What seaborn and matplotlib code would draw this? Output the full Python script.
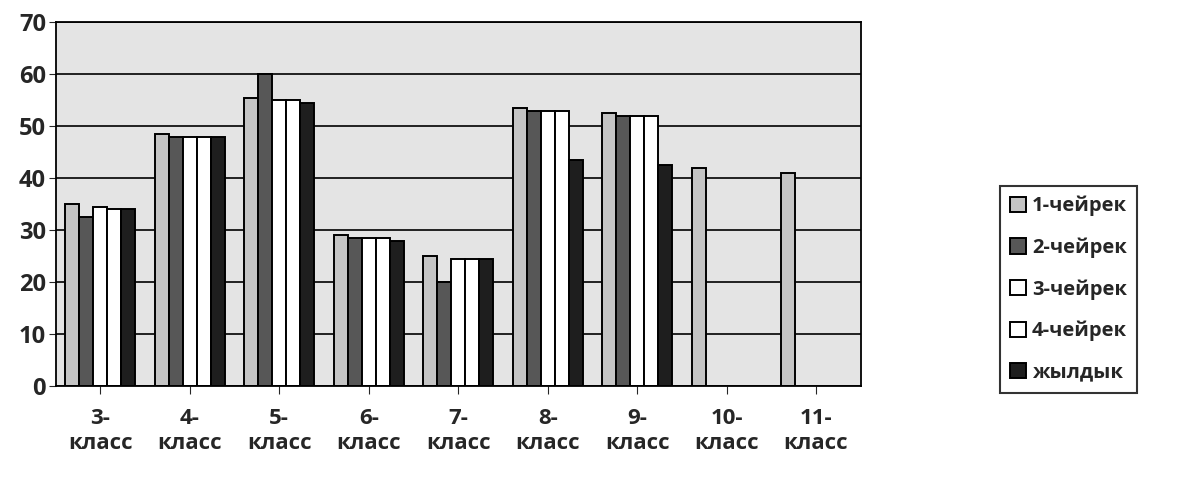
import pandas as pd
import matplotlib.pyplot as plt
import seaborn as sns

# --------------------------------------------------
# Data
# --------------------------------------------------
classes = ["3-\nкласс", "4-\nкласс", "5-\nкласс", "6-\nкласс", "7-\nкласс",
           "8-\nкласс", "9-\nкласс", "10-\nкласс", "11-\nкласс"]
series = ["1-чейрек", "2-чейрек", "3-чейрек", "4-чейрек", "жылдык"]

q1 = [35, 48.5, 55.5, 29, 25, 53.5, 52.5, 42, 41]
q2 = [32.5, 48, 60, 28.5, 20, 53, 52, None, None]
q3 = [34.5, 48, 55, 28.5, 24.5, 53, 52, None, None]
q4 = [34, 48, 55, 28.5, 24.5, 53, 52, None, None]
year = [34, 48, 54.5, 28, 24.5, 43.5, 42.5, None, None]

colors = ["#c4c4c4", "#575757", "#ffffff", "#ffffff", "#1e1e1e"]

rows = []
for name, vals in zip(series, [q1, q2, q3, q4, year]):
    for c, v in zip(classes, vals):
        if v is not None:
            rows.append({"class": c, "series": name, "value": v})
df = pd.DataFrame(rows)

# --------------------------------------------------
# Plot
# --------------------------------------------------
sns.set_style("white")
plt.rcParams["font.family"] = ["Open Sans", "DejaVu Sans"]

fig = plt.figure(figsize=(11.84, 4.95), dpi=100)
ax = fig.add_axes([0.047, 0.22, 0.68, 0.735])
ax.set_facecolor("#e4e4e4")

sns.barplot(
    data=df, x="class", y="value", hue="series",
    order=classes, hue_order=series, palette=colors,
    width=0.78, edgecolor="black", linewidth=1.4,
    saturation=1, ax=ax, legend=True,
)

ax.set_ylim(0, 70)
ax.set_yticks(range(0, 71, 10))
ax.yaxis.grid(True, color="black", linewidth=1.2)
ax.set_axisbelow(True)
ax.set_xlabel("")
ax.set_ylabel("")
ax.tick_params(axis="y", labelsize=17, length=5, direction="out", left=True, pad=2)
ax.tick_params(axis="x", labelsize=16, length=6, direction="out", bottom=True, pad=10)
for lab in ax.get_yticklabels() + ax.get_xticklabels():
    lab.set_fontweight("bold")
for s in ax.spines.values():
    s.set_color("black")
    s.set_linewidth(1.3)

handles, labels = ax.get_legend_handles_labels()
ax.get_legend().remove()
leg = fig.legend(
    handles, labels, loc="upper left", bbox_to_anchor=(0.836, 0.645),
    frameon=True, fancybox=False, edgecolor="black",
    prop={"weight": "bold", "size": 14.5}, labelspacing=1.05,
    handlelength=0.8, handleheight=0.8, handletextpad=0.3, borderpad=0.5,
)
leg.get_frame().set_linewidth(1.5)

plt.savefig("out.png", dpi=100)
plt.close()
